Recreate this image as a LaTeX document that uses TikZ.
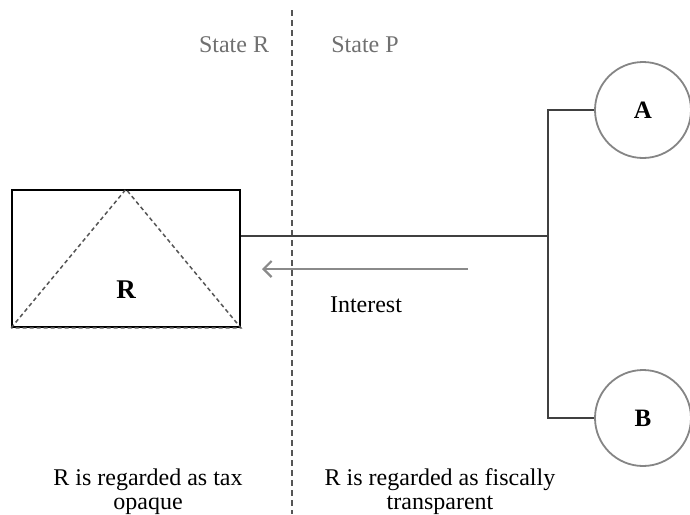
\documentclass[tikz,border=0pt]{standalone}
\usepackage{fontspec}
\setmainfont{Liberation Serif}
\usetikzlibrary{arrows.meta}
\definecolor{labelgray}{HTML}{707070}
\definecolor{rimgray}{HTML}{858585}
\definecolor{wiregray}{HTML}{404040}
\definecolor{flowgray}{HTML}{8A8A8A}
\definecolor{splitgray}{HTML}{555555}
\tikzset{
  txt/.style={font=\fontsize{24}{24}\selectfont, inner sep=0pt, align=center},
  statelabel/.style={txt, text=labelgray},
  entity/.style={draw=black, line width=1.6pt, minimum width=228pt, minimum height=137pt, inner sep=0pt},
  partner/.style={circle, draw=rimgray, line width=1.8pt, fill=white, minimum size=96pt, inner sep=0pt, font=\fontsize{25}{25}\selectfont\bfseries},
  wire/.style={draw=wiregray, line width=1.7pt},
  flow/.style={draw=flowgray, line width=2.2pt, -{Straight Barb[length=8pt, width=16pt, line width=2.2pt]}},
  border/.style={draw=splitgray, line width=1.5pt, dash pattern=on 6pt off 4pt},
  tri/.style={draw=splitgray, line width=1.5pt, dash pattern=on 4pt off 3pt}
}
\begin{document}
\begin{tikzpicture}[x=1pt, y=-1pt]
  \useasboundingbox (0,0) rectangle (690,514);

  % border between the two states
  \coordinate (btop) at (292,10);
  \coordinate (bbot) at (292,514);
  \draw[border] (btop) -- (bbot);
  \node[statelabel] (sr) at (234,45) {State R};
  \node[statelabel] (sp) at (365,45) {State P};

  % entity R with its dashed triangle
  \node[entity] (R) at (126,258.5) {};
  \draw[tri] (R.south west) -- (R.north) -- (R.south east) -- cycle;
  \node[txt, font=\fontsize{27}{27}\selectfont\bfseries] (rlab) at (126,290) {R};

  % partners A and B
  \node[partner] (A) at (643,110) {A};
  \node[partner] (B) at (643,418) {B};

  % ownership structure
  \coordinate (hub) at (548,236);
  \draw[wire] (R.east |- hub) -- (hub);
  \draw[wire] (A.west) -| (hub) |- (B.west);

  % interest payment
  \coordinate (pstart) at (468,269);
  \coordinate (pend) at (262,269);
  \draw[flow] (pstart) -- (pend);
  \node[txt] (interest) at (366,305) {Interest};

  % treatment in each state
  \node[txt] (opaque) at (148,492) {R is regarded as tax\\opaque};
  \node[txt] (transp) at (440,492) {R is regarded as fiscally\\transparent};
\end{tikzpicture}
\end{document}
